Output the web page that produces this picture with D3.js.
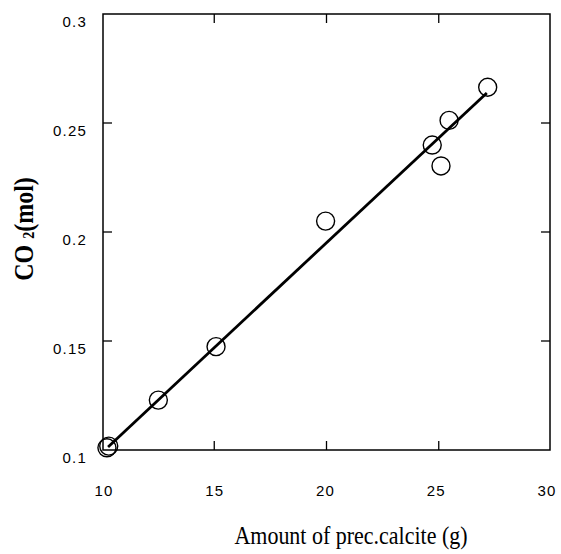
<!DOCTYPE html>
<html>
<head>
<meta charset="utf-8">
<script src="https://cdn.jsdelivr.net/npm/d3@7"></script>
<style>
  html, body { margin: 0; padding: 0; background: #fff; }
  svg { display: block; }
</style>
</head>
<body>
<svg id="chart" width="561" height="554"></svg>
<script>
// Data
const calciteG = [10.22, 10.30, 12.51, 15.08, 19.96, 24.71, 25.10, 25.46, 27.18];
const co2Mol   = [0.1010, 0.1018, 0.1229, 0.1474, 0.2050, 0.2399, 0.2303, 0.2512, 0.2664];
const fitX = [10.27, 27.14];
const fitY = [0.1014, 0.2638];
const xTicks = [10, 15, 20, 25, 30];
const yTicks = [0.1, 0.15, 0.2, 0.25, 0.3];
const xTickLabels = ["10", "15", "20", "25", "30"];
const yTickLabels = ["0.1", "0.15", "0.2", "0.25", "0.3"];

const svg = d3.select("#chart");
const box = {left: 103, right: 550, top: 14, bottom: 450};

const x = d3.scaleLinear().domain([10, 30]).range([102, 551]);
const xLab = d3.scaleLinear().domain([10, 30]).range([104, 547]);
const y = d3.scaleLinear().domain([0.1, 0.3]).range([450, 14]);

// Frame
svg.append("rect")
  .attr("x", box.left).attr("y", box.top)
  .attr("width", box.right - box.left).attr("height", box.bottom - box.top)
  .attr("fill", "none").attr("stroke", "#000").attr("stroke-width", 1.5);

const tickLen = 9;
const innerX = xTicks.filter(d => d > 10 && d < 30);
svg.selectAll(".xtb").data(innerX).enter().append("line")
  .attr("x1", d => x(d)).attr("x2", d => x(d))
  .attr("y1", box.bottom).attr("y2", box.bottom - tickLen)
  .attr("stroke", "#000").attr("stroke-width", 1.3);
svg.selectAll(".xtt").data(innerX).enter().append("line")
  .attr("x1", d => x(d)).attr("x2", d => x(d))
  .attr("y1", box.top).attr("y2", box.top + tickLen)
  .attr("stroke", "#000").attr("stroke-width", 1.3);
const innerY = yTicks.filter(d => d > 0.1 && d < 0.3);
svg.selectAll(".ytl").data(innerY).enter().append("line")
  .attr("x1", box.left).attr("x2", box.left + tickLen)
  .attr("y1", d => y(d)).attr("y2", d => y(d))
  .attr("stroke", "#000").attr("stroke-width", 1.3);
svg.selectAll(".ytr").data(innerY).enter().append("line")
  .attr("x1", box.right).attr("x2", box.right - tickLen)
  .attr("y1", d => y(d)).attr("y2", d => y(d))
  .attr("stroke", "#000").attr("stroke-width", 1.3);

// Tick labels
const tickFont = "'Liberation Sans', Arial, sans-serif";
svg.selectAll(".xl").data(xTicks).enter().append("text")
  .attr("x", d => xLab(d)).attr("y", 496)
  .attr("text-anchor", "middle")
  .attr("font-family", tickFont).attr("font-size", 15)
  .attr("letter-spacing", 1.2)
  .text((d, i) => xTickLabels[i]);
svg.selectAll(".yl").data(yTicks).enter().append("text")
  .attr("x", 87).attr("y", d => y(d) + 13)
  .attr("text-anchor", "end")
  .attr("font-family", tickFont).attr("font-size", 15)
  .attr("letter-spacing", 1.2)
  .text((d, i) => yTickLabels[i]);

// Fit line
const line = d3.line().x(d => x(d[0])).y(d => y(d[1]));
svg.append("path")
  .datum(fitX.map((v, i) => [v, fitY[i]]))
  .attr("d", line)
  .attr("fill", "none").attr("stroke", "#000").attr("stroke-width", 2.8);

// Points
svg.selectAll(".pt").data(calciteG).enter().append("circle")
  .attr("cx", d => x(d)).attr("cy", (d, i) => y(co2Mol[i]))
  .attr("r", 9)
  .attr("fill", "none").attr("stroke", "#000").attr("stroke-width", 1.4);

// Axis titles
const serif = "'Liberation Serif', 'Times New Roman', serif";
svg.append("text")
  .attr("x", 351).attr("y", 544)
  .attr("text-anchor", "middle")
  .attr("font-family", serif).attr("font-size", 22)
  .attr("transform", "translate(351,544) scale(1,1.1) translate(-351,-544)")
  .text("Amount of prec.calcite (g)");

const yt = svg.append("text")
  .attr("transform", "translate(33,229) rotate(-90) scale(1,1.15)")
  .attr("text-anchor", "middle")
  .attr("font-family", serif).attr("font-size", 24).attr("font-weight", "bold");
yt.append("tspan").text("CO ");
yt.append("tspan").attr("font-size", 14).attr("dy", 1).text("2");
yt.append("tspan").attr("dy", -1).text("(mol)");
</script>
</body>
</html>
